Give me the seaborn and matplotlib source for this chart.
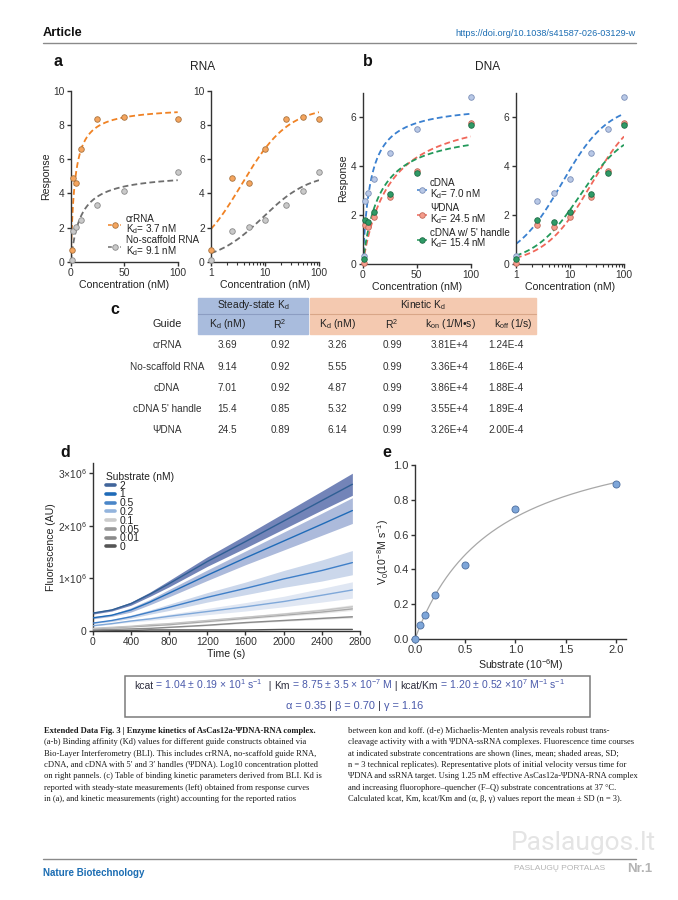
import numpy as np
import pandas as pd
import matplotlib
matplotlib.use('Agg')
import matplotlib.pyplot as plt
from matplotlib.lines import Line2D
from matplotlib.patches import Rectangle
import seaborn as sns

# ---------------- data ----------------
conc = [1, 2.5, 5, 10, 25, 50, 100]
resp_crrna = [0.70, 4.90, 4.60, 6.60, 8.33, 8.47, 8.33]
resp_noscaf = [0.10, 1.83, 2.04, 2.43, 3.30, 4.14, 5.24]
resp_cdna = [0.33, 2.58, 2.92, 3.48, 4.53, 5.51, 6.83]
resp_psidna = [0.05, 1.60, 1.50, 1.94, 2.76, 3.82, 5.76]
resp_handle = [0.19, 1.80, 1.71, 2.13, 2.85, 3.71, 5.68]

# one-site binding fits (Kd, Bmax)
kd_rna = [3.7, 9.1]
bmax_rna = [9.07, 5.21]
kd_dna = [7.0, 24.5, 15.4]
bmax_dna = [6.58, 6.50, 5.63]

# table c
guides = ['crRNA', 'No-scaffold RNA', 'cDNA', "cDNA 5' handle", 'ΨDNA']
ss_kd = ['3.69', '9.14', '7.01', '15.4', '24.5']
ss_r2 = ['0.92', '0.92', '0.92', '0.85', '0.89']
kin_kd = ['3.26', '5.55', '4.87', '5.32', '6.14']
kin_r2 = ['0.99', '0.99', '0.99', '0.99', '0.99']
kon = ['3.81E+4', '3.36E+4', '3.86E+4', '3.55E+4', '3.26E+4']
koff = ['1.24E-4', '1.86E-4', '1.88E-4', '1.89E-4', '2.00E-4']

# panel d: time courses (x10^6 AU), mean and SD
time_s = [0, 200, 400, 600, 800, 1200, 1600, 2000, 2400, 2720]
substrate_labels = ['2', '1', '0.5', '0.2', '0.1', '0.05', '0.01', '0']
mean_2 = [0.34, 0.40, 0.52, 0.70, 0.90, 1.32, 1.70, 2.09, 2.48, 2.79]
mean_1 = [0.25, 0.30, 0.40, 0.55, 0.72, 1.06, 1.39, 1.71, 2.03, 2.29]
mean_05 = [0.15, 0.20, 0.27, 0.36, 0.45, 0.64, 0.81, 0.99, 1.15, 1.30]
mean_02 = [0.10, 0.14, 0.19, 0.23, 0.28, 0.37, 0.46, 0.56, 0.68, 0.78]
mean_01 = [0.05, 0.07, 0.09, 0.12, 0.14, 0.20, 0.26, 0.32, 0.39, 0.46]
mean_005 = [0.04, 0.06, 0.08, 0.10, 0.12, 0.18, 0.24, 0.30, 0.36, 0.42]
mean_001 = [0.02, 0.03, 0.04, 0.05, 0.07, 0.11, 0.16, 0.20, 0.24, 0.27]
mean_0 = [0.01, 0.01, 0.01, 0.02, 0.02, 0.02, 0.02, 0.03, 0.03, 0.03]
sd_2 = [0.02, 0.02, 0.03, 0.04, 0.06, 0.09, 0.12, 0.15, 0.18, 0.21]
sd_1 = [0.02, 0.02, 0.04, 0.05, 0.07, 0.10, 0.13, 0.17, 0.21, 0.245]
sd_05 = [0.01, 0.02, 0.03, 0.04, 0.06, 0.09, 0.12, 0.16, 0.20, 0.23]
sd_02 = [0.01, 0.01, 0.02, 0.03, 0.04, 0.06, 0.08, 0.10, 0.13, 0.155]
sd_01 = [0.005, 0.007, 0.01, 0.012, 0.015, 0.02, 0.025, 0.03, 0.035, 0.04]
sd_005 = [0.005, 0.006, 0.008, 0.01, 0.01, 0.015, 0.02, 0.02, 0.025, 0.03]
sd_001 = [0.003, 0.004, 0.005, 0.006, 0.008, 0.01, 0.012, 0.015, 0.018, 0.02]
sd_0 = [0.003, 0.003, 0.003, 0.003, 0.003, 0.003, 0.003, 0.003, 0.003, 0.003]

# panel e: Michaelis-Menten
substrate_um = [0.0, 0.05, 0.1, 0.2, 0.5, 1.0, 2.0]
v0 = [0.0, 0.08, 0.14, 0.253, 0.425, 0.747, 0.893]
mm_vmax = 1.26
mm_km = 0.80

# ---------------- style ----------------
sns.set_style('ticks')
plt.rcParams['font.family'] = ['Liberation Sans', 'DejaVu Sans']
plt.rcParams['mathtext.fontset'] = 'custom'
plt.rcParams['mathtext.rm'] = 'Liberation Sans'
plt.rcParams['mathtext.it'] = 'Liberation Sans:italic'
plt.rcParams['mathtext.bf'] = 'Liberation Sans:bold'
plt.rcParams['font.size'] = 7.2
plt.rcParams['axes.linewidth'] = 1.0
plt.rcParams['axes.edgecolor'] = '#333333'
plt.rcParams['xtick.major.width'] = 1.0
plt.rcParams['ytick.major.width'] = 1.0
plt.rcParams['xtick.major.size'] = 3
plt.rcParams['ytick.major.size'] = 3
plt.rcParams['xtick.minor.size'] = 2
plt.rcParams['xtick.minor.width'] = 0.8
plt.rcParams['xtick.color'] = '#333333'
plt.rcParams['ytick.color'] = '#333333'
plt.rcParams['xtick.labelsize'] = 7.4
plt.rcParams['ytick.labelsize'] = 7.4
plt.rcParams['xtick.major.pad'] = 1.5
plt.rcParams['ytick.major.pad'] = 1.5
plt.rcParams['axes.labelsize'] = 7.6
plt.rcParams['axes.labelpad'] = 1.5
plt.rcParams['text.color'] = '#222222'
plt.rcParams['axes.labelcolor'] = '#222222'

W, H = 678, 900
fig = plt.figure(figsize=(6.78, 9.0), dpi=100)


def box(x0, y0, x1, y1):
    # pixel box (top-left origin) -> figure fraction rect
    return [x0 / W, 1 - y1 / H, (x1 - x0) / W, (y1 - y0) / H]


def fx(px):
    return px / W


def fy(py):
    return 1 - py / H


orange, orange_pt, orange_ec = '#f08224', '#f5a55e', '#a8733f'
grey, grey_pt, grey_ec = '#6e6e6e', '#c9c9c9', '#8a8a8a'
blue, blue_pt, blue_ec = '#3a80d0', '#b8c8e6', '#7b8fb8'
red, red_pt, red_ec = '#f0675a', '#f59c8c', '#c0695a'
green, green_pt, green_ec = '#22995a', '#2e9a66', '#1d6b45'


def binding_panel(ax, log, series, fits, ylim, yticks):
    if log:
        xs = np.geomspace(1, 100, 200)
    else:
        xs = np.linspace(0.1, 100, 400)
    for (kd, bmax, col) in fits:
        sns.lineplot(x=xs, y=bmax * xs / (kd + xs), ax=ax, color=col,
                     lw=1.3, linestyle=(0, (3.2, 1.8)))
    for (vals, fc, ec) in series:
        sns.scatterplot(x=conc, y=vals, ax=ax, color=fc, edgecolor=ec,
                        linewidth=0.6, s=16, clip_on=False, zorder=5)
    ax.set_ylim(*ylim)
    ax.set_yticks(yticks)
    if log:
        ax.set_xscale('log')
        ax.set_xlim(1, 100)
        ax.set_xticks([1, 10, 100])
        ax.set_xticklabels(['1', '10', '100'])
    else:
        ax.set_xlim(0, 100)
        ax.set_xticks([0, 50, 100])
    ax.set_xlabel('Concentration (nM)')
    sns.despine(ax=ax)


# ---------------- panel a ----------------
rna_series = [(resp_crrna, orange_pt, orange_ec), (resp_noscaf, grey_pt, grey_ec)]
rna_fits = [(kd_rna[0], bmax_rna[0], orange), (kd_rna[1], bmax_rna[1], grey)]
ax_a1 = fig.add_axes(box(70.7, 90.7, 177.7, 262))
binding_panel(ax_a1, False, rna_series, rna_fits, (0, 10), [0, 2, 4, 6, 8, 10])
ax_a1.set_ylabel('Response')
ax_a2 = fig.add_axes(box(211, 90.7, 319, 262))
binding_panel(ax_a2, True, rna_series, rna_fits, (0, 10), [0, 2, 4, 6, 8, 10])

h_a = [Line2D([], [], color=orange, ls=(0, (2.5, 1.5)), lw=1.1, marker='o', ms=4,
              mfc=orange_pt, mec=orange_ec, mew=0.6),
       Line2D([], [], color=grey, ls=(0, (2.5, 1.5)), lw=1.1, marker='o', ms=4,
              mfc=grey_pt, mec=grey_ec, mew=0.6)]
leg = ax_a1.legend(h_a, ['crRNA\nK$_\\mathrm{d}$= 3.7 nM', 'No-scaffold RNA\nK$_\\mathrm{d}$= 9.1 nM'],
                   loc='lower left', bbox_to_anchor=(0.35, 0.025), frameon=False,
                   fontsize=7.1, handlelength=1.3, handletextpad=0.5, labelspacing=-0.05,
                   borderpad=0, borderaxespad=0)
for t in leg.get_texts():
    t.set_linespacing(0.85)

# ---------------- panel b ----------------
dna_series = [(resp_cdna, blue_pt, blue_ec), (resp_psidna, red_pt, red_ec),
              (resp_handle, green_pt, green_ec)]
dna_fits = [(kd_dna[0], bmax_dna[0], blue), (kd_dna[1], bmax_dna[1], red),
            (kd_dna[2], bmax_dna[2], green)]
ax_b1 = fig.add_axes(box(362.7, 93, 470.7, 264))
binding_panel(ax_b1, False, dna_series, dna_fits, (0, 7), [0, 2, 4, 6])
ax_b1.set_ylabel('Response')
ax_b2 = fig.add_axes(box(516, 93, 624, 264))
binding_panel(ax_b2, True, dna_series, dna_fits, (0, 7), [0, 2, 4, 6])

h_b = [Line2D([], [], color=c, ls=(0, (2.5, 1.5)), lw=1.1, marker='o', ms=4,
              mfc=fc, mec=ec, mew=0.6)
       for c, fc, ec in [(blue, blue_pt, blue_ec), (red, red_pt, red_ec),
                         (green, green_pt, green_ec)]]
leg = ax_b1.legend(h_b, ['cDNA\nK$_\\mathrm{d}$= 7.0 nM', 'ΨDNA\nK$_\\mathrm{d}$= 24.5 nM',
                         "cDNA w/ 5' handle\nK$_\\mathrm{d}$= 15.4 nM"],
                   loc='lower left', bbox_to_anchor=(0.5, 0.08), frameon=False,
                   fontsize=7.1, handlelength=1.0, handletextpad=0.35, labelspacing=0.25,
                   borderpad=0, borderaxespad=0)
for t in leg.get_texts():
    t.set_linespacing(0.85)

# panel letters and titles
for s, x, y in [('a', 58, 62), ('b', 368, 62), ('c', 115, 310), ('d', 65, 453), ('e', 387, 453)]:
    fig.text(fx(x), fy(y), s, fontsize=11.5, fontweight='bold', ha='center', va='center',
             color='#111111')
fig.text(fx(203), fy(67), 'RNA', fontsize=8.6, ha='center', va='center')
fig.text(fx(488), fy(67), 'DNA', fontsize=8.6, ha='center', va='center')

# ---------------- table c ----------------
fig.patches.append(Rectangle((fx(198), fy(334)), (308 - 198) / W, 36 / H,
                             transform=fig.transFigure, color='#a9bcdd', zorder=0))
fig.patches.append(Rectangle((fx(310), fy(334)), (536 - 310) / W, 36 / H,
                             transform=fig.transFigure, color='#f4c9b0', zorder=0))
fig.add_artist(Line2D([fx(198), fx(308)], [fy(314), fy(314)], transform=fig.transFigure,
                      color='#8c9dc2', lw=0.8))
fig.add_artist(Line2D([fx(310), fx(536)], [fy(314), fy(314)], transform=fig.transFigure,
                      color='#d9a688', lw=0.8))
fig.text(fx(253), fy(305), 'Steady-state K$_\\mathrm{d}$', fontsize=7.4, ha='center', va='center')
fig.text(fx(423), fy(305), 'Kinetic K$_\\mathrm{d}$', fontsize=7.4, ha='center', va='center')
col_heads = ['Guide', 'K$_\\mathrm{d}$ (nM)', 'R$^2$', 'K$_\\mathrm{d}$ (nM)', 'R$^2$',
             'k$_\\mathrm{on}$ (1/M•s)', 'k$_\\mathrm{off}$ (1/s)']
head_x = [167, 227, 280, 337, 392, 450, 513]
for s, x in zip(col_heads, head_x):
    fig.text(fx(x), fy(324), s, fontsize=7.8 if s == 'Guide' else 7.5, ha='center', va='center')
row_y = [345, 367, 388, 409, 430]
data_x = [167, 227, 280, 337, 392, 450, 506]
columns = [guides, ss_kd, ss_r2, kin_kd, kin_r2, kon, koff]
for col, x in zip(columns, data_x):
    for val, y in zip(col, row_y):
        fig.text(fx(x), fy(y), val, fontsize=7.2, ha='center', va='center', color='#333333')

# ---------------- panel d ----------------
ax_d = fig.add_axes(box(92.7, 462.7, 360, 631))
means = [mean_2, mean_1, mean_05, mean_02, mean_01, mean_005, mean_001, mean_0]
sds = [sd_2, sd_1, sd_05, sd_02, sd_01, sd_005, sd_001, sd_0]
line_cols = ['#2f5f94', '#1f6bb8', '#3f7fc8', '#7fa8d9', '#c4c4c4', '#a8a8a8', '#8a8a8a', '#555555']
band_cols = ['#7384b8', '#acbadb', '#cbd7eb', '#e0e7f3', '#e6e6e6', '#e9e9e9', '#dcdcdc', '#d0d0d0']
leg_cols = ['#41659b', '#1f6bb8', '#4a86c8', '#93b4dd', '#cccccc', '#9a9a9a', '#8a8a8a', '#555555']
t_arr = np.array(time_s)
for i in range(len(means))[::-1]:
    m = np.array(means[i]) * 1e6
    sd = np.array(sds[i]) * 1e6
    ax_d.fill_between(t_arr, m - sd, m + sd, color=band_cols[i], lw=0, zorder=1 + i * 0.01)
for i in range(len(means))[::-1]:
    m = np.array(means[i]) * 1e6
    sns.lineplot(x=t_arr, y=m, ax=ax_d, color=line_cols[i], lw=1.0, zorder=3)
ax_d.set_xlim(0, 2800)
ax_d.set_ylim(0, 3.2e6)
ax_d.set_xticks(np.arange(0, 2801, 400))
ax_d.set_yticks([0, 1e6, 2e6, 3e6])
ax_d.set_yticklabels(['0', '1×10$^{6}$', '2×10$^{6}$', '3×10$^{6}$'])
ax_d.set_xlabel('Time (s)')
ax_d.set_ylabel('Fluorescence (AU)')
sns.despine(ax=ax_d)
h_d = [Line2D([], [], color=c, lw=2.6) for c in leg_cols]
leg = ax_d.legend(h_d, substrate_labels, title='Substrate (nM)', loc='upper left',
                  bbox_to_anchor=(0.05, 0.945), frameon=False, fontsize=7.4,
                  title_fontsize=7.4, handlelength=0.9, handletextpad=0.4,
                  labelspacing=-0.12, borderpad=0, borderaxespad=0, alignment='left')

# ---------------- panel e ----------------
ax_e = fig.add_axes(box(415, 465, 626, 639))
s_fit = np.linspace(0, 2.0, 200)
sns.lineplot(x=s_fit, y=mm_vmax * s_fit / (mm_km + s_fit), ax=ax_e, color='#a8a8a8', lw=0.9)
sns.scatterplot(x=substrate_um, y=v0, ax=ax_e, color='#7ea6d9', edgecolor='#4d6e9e',
                linewidth=0.6, s=26, clip_on=False, zorder=5)
ax_e.set_xlim(0, 2.1)
ax_e.set_ylim(0, 1.0)
ax_e.set_xticks([0, 0.5, 1.0, 1.5, 2.0])
ax_e.set_xticklabels(['0.0', '0.5', '1.0', '1.5', '2.0'])
ax_e.set_yticks(np.arange(0, 1.01, 0.2))
ax_e.set_yticklabels(['0.0', '0.2', '0.4', '0.6', '0.8', '1.0'])
ax_e.tick_params(labelsize=8)
ax_e.set_xlabel('Substrate (10$^{-6}$M)')
ax_e.set_ylabel('V$_0$(10$^{-8}$M s$^{-1}$)')
sns.despine(ax=ax_e)

# ---------------- equation box ----------------
fig.patches.append(Rectangle((fx(125), fy(717)), (590 - 125) / W, (717 - 676) / H,
                             transform=fig.transFigure, fill=False, ec='#7a7a7a', lw=1.1))
eq_blue, eq_dark = '#4a5aab', '#2e2e3e'
renderer = fig.canvas.get_renderer()


def text_run(x, y, pieces, size):
    for s, c in pieces:
        t = fig.text(x, y, s, color=c, fontsize=size, va='baseline', ha='left')
        x += t.get_window_extent(renderer).width / fig.bbox.width


text_run(fx(134), fy(689), [
    ('kcat', eq_dark), (' = 1.04 ± 0.19 × 10$^{1}$ s$^{-1}$', eq_blue), ('  | ', eq_dark),
    ('Km', eq_dark), (' = 8.75 ± 3.5 × 10$^{-7}$ M', eq_blue), (' | ', eq_dark),
    ('kcat/Km', eq_dark), (' = 1.20 ± 0.52 ×10$^{7}$ M$^{-1}$ s$^{-1}$', eq_blue)], 7.5)
text_run(fx(286), fy(709), [
    ('α = 0.35 ', eq_blue), ('|', eq_dark), (' β = 0.70 ', eq_blue), ('|', eq_dark),
    (' γ = 1.16', eq_blue)], 7.9)

# ---------------- page header / caption / footer ----------------
fig.text(fx(43), fy(33), 'Article', fontsize=9.2, fontweight='bold', va='center', color='#111111')
fig.text(fx(636), fy(33), 'https://doi.org/10.1038/s41587-026-03129-w', fontsize=6.6,
         ha='right', va='center', color='#1b6db3')
fig.add_artist(Line2D([fx(43), fx(636)], [fy(43), fy(43)], transform=fig.transFigure,
                      color='#8a8a8a', lw=1.0))

cap_left = [
    'Extended Data Fig. 3 | Enzyme kinetics of AsCas12a-ΨDNA-RNA complex.',
    '(a-b) Binding affinity (Kd) values for different guide constructs obtained via',
    'Bio-Layer Interferometry (BLI). This includes crRNA, no-scaffold guide RNA,',
    'cDNA, and cDNA with 5′ and 3′ handles (ΨDNA). Log10 concentration plotted',
    'on right pannels. (c) Table of binding kinetic parameters derived from BLI. Kd is',
    'reported with steady-state measurements (left) obtained from response curves',
    'in (a), and kinetic measurements (right) accounting for the reported ratios',
]
cap_right = [
    'between kon and koff. (d-e) Michaelis-Menten analysis reveals robust trans-',
    'cleavage activity with a with ΨDNA-ssRNA complexes. Fluorescence time courses',
    'at indicated substrate concentrations are shown (lines, mean; shaded areas, SD;',
    'n = 3 technical replicates). Representative plots of initial velocity versus time for',
    'ΨDNA and ssRNA target. Using 1.25 nM effective AsCas12a-ΨDNA-RNA complex',
    'and increasing fluorophore–quencher (F–Q) substrate concentrations at 37 °C.',
    'Calculated kcat, Km, kcat/Km and (α, β, γ) values report the mean ± SD (n = 3).',
]
cap_y = [731, 742.3, 753.6, 764.9, 776.2, 787.5, 798.8]
for i, (s, y) in enumerate(zip(cap_left, cap_y)):
    fig.text(fx(43.5), fy(y), s, fontsize=6.1, va='center', family=['Liberation Serif', 'DejaVu Serif'],
             fontweight='bold' if i == 0 else 'normal', color='#1a1a1a')
for s, y in zip(cap_right, cap_y):
    fig.text(fx(348), fy(y), s, fontsize=6.1, va='center', family=['Liberation Serif', 'DejaVu Serif'],
             color='#1a1a1a')

fig.add_artist(Line2D([fx(43), fx(636)], [fy(859), fy(859)], transform=fig.transFigure,
                      color='#8a8a8a', lw=1.0))
fig.text(fx(43), fy(873), 'Nature Biotechnology', fontsize=7.0, fontweight='bold',
         va='center', color='#1b6db3')

# watermark
fig.text(fx(583), fy(843), 'Paslaugos.lt', fontsize=19, ha='center', va='center',
         color='#e4e4e4', family=['Roboto', 'DejaVu Sans'])
fig.text(fx(560), fy(869), 'PASLAUGŲ PORTALAS', fontsize=6.0, ha='center', va='center',
         color='#b4b4b4')
fig.text(fx(640), fy(869), 'Nr.1', fontsize=9.5, fontweight='bold', ha='center', va='center',
         color='#b4b4b4')

fig.savefig('out.png', dpi=100)
